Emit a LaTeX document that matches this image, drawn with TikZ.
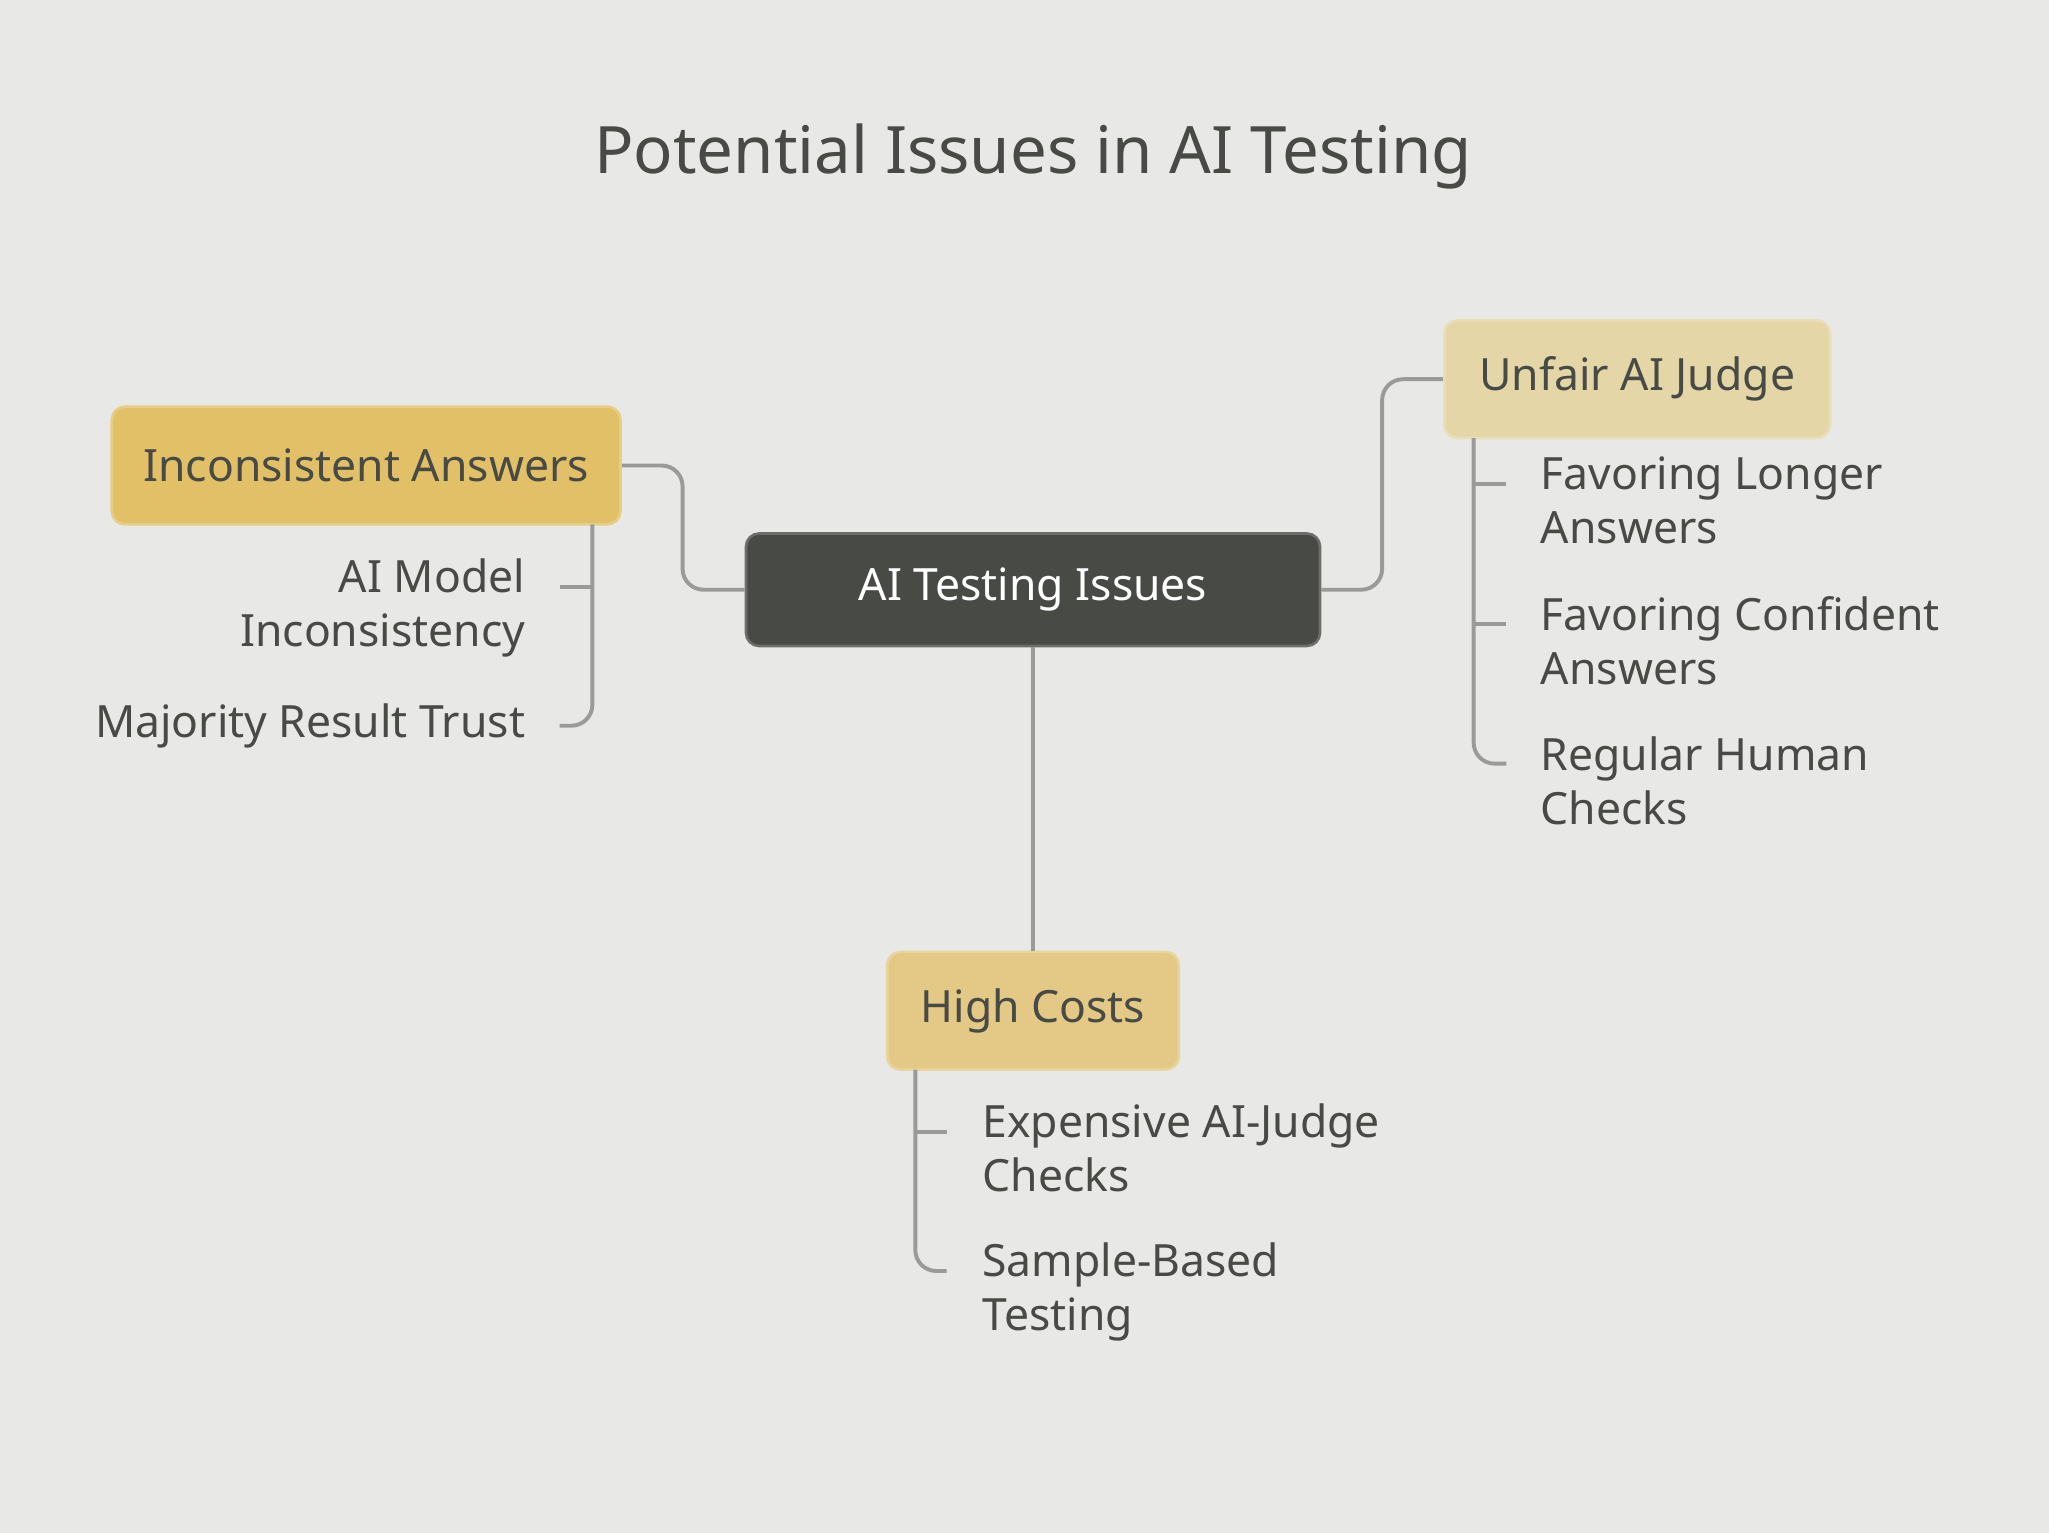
\documentclass[tikz,border=0pt]{standalone}
\usepackage{fontspec}
\setmainfont{Noto Sans}
\usetikzlibrary{positioning, calc}
\definecolor{bgc}{HTML}{E8E8E6}
\definecolor{darkc}{HTML}{484A45}
\definecolor{goldc}{HTML}{E2C068}
\definecolor{paleс}{HTML}{E5D6A8}
\definecolor{midc}{HTML}{E3C985}
\definecolor{linec}{HTML}{9A9A98}
\tikzset{
	topic/.style={rectangle, rounded corners=5pt, draw=#1!80!white, line width=1pt, fill=#1, text=darkc, font=\fontsize{17}{20}\selectfont\bfseries, inner sep=0pt},
	leaf/.style={text=darkc, font=\fontsize{17}{20.5}\selectfont, inner sep=0pt},
	link/.style={draw=linec, line width=1.5pt, rounded corners=8pt}
}
\begin{document}
\begin{tikzpicture}[x=0.5pt, y=-0.5pt]
	\fill[bgc] (0,0) rectangle (1567,1172);
	\useasboundingbox (0,0) rectangle (1567,1172);

	% Title
	\node[text=darkc, font=\fontsize{25}{30}\selectfont\bfseries] (title) at (790,120) {Potential Issues in AI Testing};

	% Main topics
	\node[topic=darkc, text=white, minimum width=219.5pt, minimum height=43pt] (root) at (790,451) {AI Testing Issues};
	\node[topic=goldc, minimum width=194.5pt, minimum height=45pt] (incons) at (280,356) {Inconsistent Answers};
	\node[topic=paleс, minimum width=147.5pt, minimum height=45pt] (judge) at (1252,290) {Unfair AI Judge};
	\node[topic=midc, minimum width=111.5pt, minimum height=45pt] (costs) at (790,773) {High Costs};

	% Branches from the root
	\draw[link] (root.west) -- (522,451) -- (522,356) -- (incons.east);
	\draw[link] (root.east) -- (1057,451) -- (1057,290) -- (judge.west);
	\draw[link] (root.south) -- (costs.north);

	% Inconsistent Answers leaves
	\node[leaf, align=right, anchor=north east] (l1) at (402,427) {AI Model \\ Inconsistency};
	\node[leaf, anchor=east] (l2) at (402,555) {Majority Result Trust};
	\coordinate (t1) at (453,449);
	\coordinate (t2) at (428,555);
	\draw[link] (453,401) -- (453,555) -- (t2);
	\draw[link] (t1) -- (428,449);

	% Unfair AI Judge leaves
	\node[leaf, align=left, anchor=north west] (r1) at (1178,349) {Favoring Longer\\Answers};
	\node[leaf, align=left, anchor=north west] (r2) at (1178,456) {Favoring Confident\\Answers};
	\node[leaf, align=left, anchor=north west] (r3) at (1178,563) {Regular Human\\Checks};
	\draw[link] (1127,335) -- (1127,584) -- (1152,584);
	\foreach \yy in {370,477} \draw[link] (1127,\yy) -- (1152,\yy);

	% High Costs leaves
	\node[leaf, align=left, anchor=north west] (c1) at (751,844) {Expensive AI-Judge\\Checks};
	\node[leaf, align=left, anchor=north west] (c2) at (751,950) {Sample-Based\\Testing};
	\draw[link] (700,818) -- (700,972) -- (724,972);
	\draw[link] (700,866) -- (724,866);
\end{tikzpicture}
\end{document}
